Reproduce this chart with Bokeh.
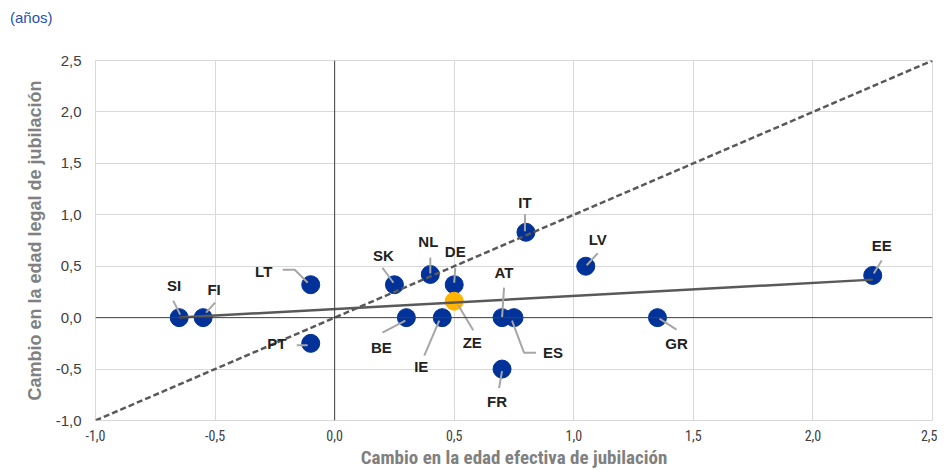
import numpy as np
from bokeh.plotting import figure
from bokeh.models import Span, FixedTicker, Range1d, Div
from bokeh.layouts import column
from bokeh.core.properties import value
from bokeh.embed import file_html
from bokeh.resources import INLINE

# ---------------- data ----------------
countries = ["SI", "FI", "LT", "PT", "SK", "NL", "DE", "BE", "IE", "AT", "ES", "FR", "IT", "LV", "GR", "EE"]
x_effective = [-0.65, -0.55, -0.10, -0.10, 0.25, 0.40, 0.50, 0.30, 0.45, 0.70, 0.75, 0.70, 0.80, 1.05, 1.35, 2.25]
y_legal = [0.00, 0.00, 0.32, -0.25, 0.32, 0.42, 0.32, 0.00, 0.00, 0.00, 0.00, -0.50, 0.83, 0.50, 0.00, 0.41]
ea_name = ["ZE"]
ea_x = [0.50]
ea_y = [0.16]

tick_values = [-1.0, -0.5, 0.0, 0.5, 1.0, 1.5, 2.0, 2.5]
tick_labels = ["-1,0", "-0,5", "0,0", "0,5", "1,0", "1,5", "2,0", "2,5"]
x_title = "Cambio en la edad efectiva de jubilación"
y_title = "Cambio en la edad legal de jubilación"
unit_note = "(años)"

# ---------------- layout constants ----------------
FW, FH = 837, 360
XMIN, XMAX = -1.0, 2.5
YMIN, YMAX = -1.0, 2.5
PXX = FW / (XMAX - XMIN)
PXY = FH / (YMAX - YMIN)
HEAD_H = 30
NARROW = "Liberation Sans Narrow, Arial Narrow, Roboto Condensed, Liberation Sans, sans-serif"

# label offsets in screen pixels (dx, dy downwards) and leader polylines
label_layout = {
    "SI": ((-5, -32), [(-6, -17), (1, -3)]),
    "FI": ((11, -28), [(12, -15), (3, -5)]),
    "LT": ((-47, -13), [(-28, -15), (-16, -15), (-3, -2)]),
    "PT": ((-34, 0), [(-14, 2), (-3, 2)]),
    "SK": ((-11, -29), [(-12, -17), (-1, -2)]),
    "NL": ((-2, -33), [(0, -17), (0, -1)]),
    "DE": ((1, -33), [(1, -17), (0, -2)]),
    "BE": ((-25, 30), [(-24, 15), (-1, 3)]),
    "IE": ((-21, 49), [(-18, 38), (-3, 3)]),
    "AT": ((2, -45), [(2, -30), (0, 0)]),
    "ES": ((39, 35), [(-2, 3), (10, 35), (22, 35)]),
    "FR": ((-5, 32), [(0, 2), (-3, 19)]),
    "IT": ((-1, -30), [(-1, -18), (-1, -1)]),
    "LV": ((12, -27), [(12, -13), (1, -1)]),
    "GR": ((19, 26), [(19, 12), (2, 1)]),
    "EE": ((9, -30), [(9, -15), (1, -2)]),
    "ZE": ((18, 41), [(19, 29), (4, 4)]),
}

head = Div(text=unit_note, width=200, height=HEAD_H,
           styles={"font-family": "Liberation Sans", "font-size": "15px", "color": "#1f4fb0",
                   "padding-left": "10px", "padding-top": "9px", "margin": "0",
                   "box-sizing": "border-box", "line-height": "18px"})

p = figure(frame_width=FW, frame_height=FH, output_backend="svg", toolbar_location=None,
           x_range=Range1d(XMIN, XMAX), y_range=Range1d(YMIN, YMAX),
           min_border_left=95, min_border_right=5, min_border_top=60 - HEAD_H, min_border_bottom=50)
p.background_fill_color = "white"
p.border_fill_color = "white"
p.outline_line_color = "#d9d9d9"

for ax in (p.xaxis[0], p.yaxis[0]):
    ax.ticker = FixedTicker(ticks=tick_values)
    ax.major_label_overrides = {v: l for v, l in zip(tick_values, tick_labels)}
    ax.axis_line_color = None
    ax.major_tick_line_color = None
    ax.minor_tick_line_color = None
    ax.major_tick_out = 0
    ax.major_tick_in = 0
    ax.major_label_text_color = "#404040"
    ax.axis_label_text_color = "#808080"
    ax.axis_label_text_font_style = "bold"

p.xaxis.axis_label = x_title
p.xaxis.major_label_text_font = NARROW
p.xaxis.major_label_text_font_size = "14px"
p.xaxis.major_label_standoff = 9
p.xaxis.axis_label_text_font = NARROW
p.xaxis.axis_label_text_font_size = "19px"
p.xaxis.axis_label_standoff = 2

p.yaxis.axis_label = y_title
p.yaxis.major_label_text_font = "Liberation Sans"
p.yaxis.major_label_text_font_size = "15px"
p.yaxis.major_label_standoff = 14
p.yaxis.axis_label_text_font = "Liberation Sans"
p.yaxis.axis_label_text_font_size = "18px"
p.yaxis.axis_label_standoff = 8

p.xgrid.grid_line_color = "#d9d9d9"
p.ygrid.grid_line_color = "#d9d9d9"

p.add_layout(Span(location=0, dimension="width", line_color="#404040", line_width=1))
p.add_layout(Span(location=0, dimension="height", line_color="#404040", line_width=1))

# points
p.scatter(x_effective, y_legal, size=18, marker="circle", fill_color="#003299", line_color="#003299")
p.scatter(ea_x, ea_y, size=18, marker="circle", fill_color="#FFB400", line_color="#FFB400")

# 45-degree line
p.line([XMIN, XMAX], [YMIN, YMAX], line_color="#595959", line_width=2.5, line_dash="6 3")

# regression line
xs_arr = np.array(x_effective)
ys_arr = np.array(y_legal)
slope, intercept = np.polyfit(xs_arr, ys_arr, 1)
tx = [xs_arr.min(), xs_arr.max()]
ty = [intercept + slope * v for v in tx]
p.line(tx, ty, line_color="#595959", line_width=2.5)

# labels + leaders
all_names = countries + ea_name
all_x = x_effective + ea_x
all_y = y_legal + ea_y
lx, ly, lt = [], [], []
leader_xs, leader_ys = [], []
for n, xv, yv in zip(all_names, all_x, all_y):
    (tdx, tdy), pts = label_layout[n]
    lx.append(xv + tdx / PXX)
    ly.append(yv - tdy / PXY)
    lt.append(n)
    leader_xs.append([xv + a / PXX for a, b in pts])
    leader_ys.append([yv - b / PXY for a, b in pts])

p.multi_line(leader_xs, leader_ys, line_color="#a6a6a6", line_width=2)
p.text(lx, ly, lt, text_align="center", text_baseline="middle",
       text_font=value("Liberation Sans"), text_font_style="bold",
       text_font_size="15px", text_color="#222222")

layout = column(head, p, spacing=0)
open("out.html", "w").write(file_html(layout, INLINE))
